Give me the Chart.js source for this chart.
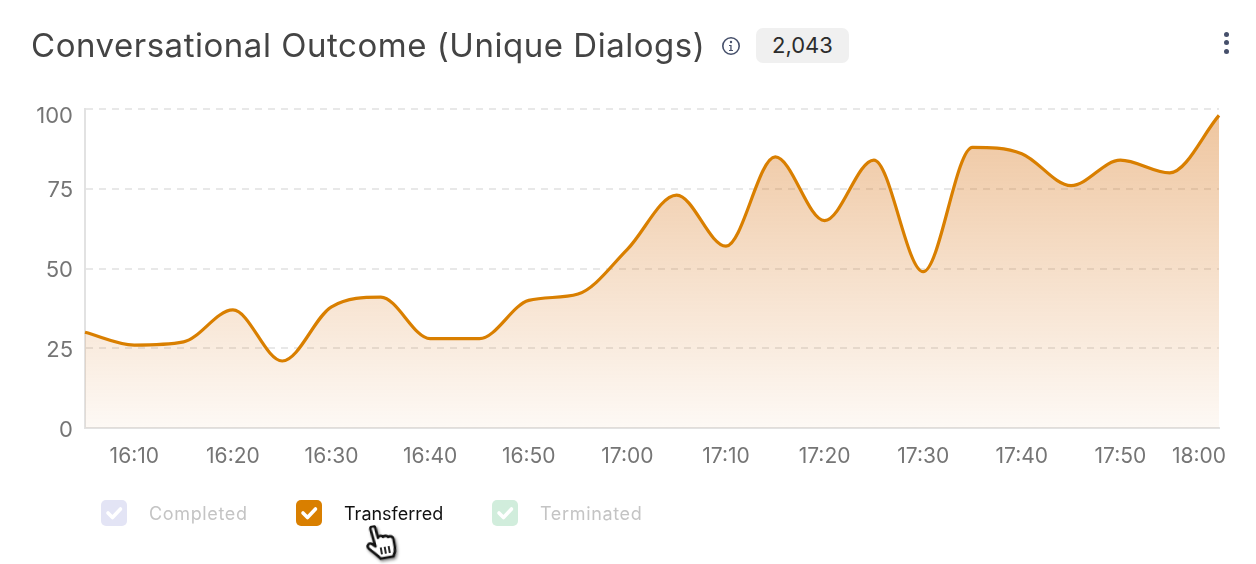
<!DOCTYPE html>
<html>
<head>
<meta charset="utf-8">
<script src="https://cdn.jsdelivr.net/npm/chart.js@4"></script>
<style>
  body { margin: 0; background: #fff; font-family: Inter, sans-serif; }
  #wrap { position: relative; width: 1256px; height: 564px; overflow: hidden; }
  #myChart { position: absolute; left: 0; top: 0; }
  #title { position: absolute; left: 31px; top: 25px; font-size: 33px; line-height: 40px; color: #444; white-space: nowrap; letter-spacing: 0.53px; }
  #info { position: absolute; left: 721px; top: 36px; }
  #badge { position: absolute; left: 756px; top: 28px; width: 93px; height: 35px; line-height: 35px; background: #f0f0f0; border-radius: 7px; text-align: center; font-size: 22px; color: #2c2c2c; }
  .dot { position: absolute; left: 1224px; width: 5px; height: 5px; border-radius: 50%; background: #46506b; }
  .item { position: absolute; top: 500px; height: 27px; }
  .box { position: absolute; left: 0; top: 0; width: 26px; height: 26px; border-radius: 5px; }
  .lbl { position: absolute; left: 48px; top: 0; line-height: 27px; font-size: 18px; white-space: nowrap; }
  #hand { position: absolute; left: 366px; top: 524px; transform: rotate(-10deg); filter: drop-shadow(1px 2px 1.5px rgba(0,0,0,0.45)); }
</style>
</head>
<body>
<div id="wrap">
  <canvas id="myChart" width="1256" height="564"></canvas>
  <div id="title">Conversational Outcome (Unique Dialogs)</div>
  <svg id="info" width="20" height="20" viewBox="0 0 20 20">
    <circle cx="10" cy="10" r="8.2" fill="none" stroke="#46506b" stroke-width="1.6"/>
    <circle cx="10" cy="6" r="1.2" fill="#46506b"/>
    <path d="M8 9h2.6v5H12v1H8v-1h1.3v-4H8z" fill="#46506b"/>
  </svg>
  <div id="badge"></div>
  <div class="dot" style="top:32px"></div>
  <div class="dot" style="top:40px"></div>
  <div class="dot" style="top:49px"></div>
  <div id="legend"></div>
  <svg id="hand" width="34" height="38" viewBox="0 0 34 38">
    <path d="M7 3c0-3 5-3 5 0l1 10c1-2 4-2 5 0 1-1 4-1 5 1 2-1 5 0 5 3v8c0 4-1 6-3 9H12c-2-3-5-6-10-12-2-3 1-6 4-4l3 3z" fill="#fff" stroke="#111" stroke-width="2.6" stroke-linejoin="round"/>
    <path d="M14 23v7M18 23v7M22 23v7" stroke="#111" stroke-width="1.8"/>
  </svg>
</div>
<script>
// 5 minute buckets
const timeLabels = ['16:05','16:10','16:15','16:20','16:25','16:30','16:35','16:40','16:45','16:50','16:55','17:00',
    '17:05','17:10','17:15','17:20','17:25','17:30','17:35','17:40','17:45','17:50','17:55','18:00'];
const transferred = [30,26,27,37,21,38,41,28,28,40,42,56,73,57,85,65,84,49,88,86,76,84,80,98];
const completed = [];
const terminated = [];
const seriesNames = ['Completed','Transferred','Terminated'];
const seriesColors = ['#e3e4f5','#d97f00','#d1eddc'];
const yTicks = [0,25,50,75,100];
const totalDialogs = '2,043';

document.getElementById('badge').textContent = totalDialogs;

// first and last tick labels sit inside the plot edges
const nudgeLabels = {
    id: 'nudgeLabels',
    beforeDraw(chart) {
        chart.scales.x.getLabelItems().forEach(item => {
            if (item.label === '18:00') item.options.translation[0] -= 20;
        });
        chart.scales.y.getLabelItems().forEach(item => {
            item.options.translation[1] += item.label === '100' ? 7 : 2;
        });
    }
};

let ctx = document.getElementById('myChart').getContext('2d');
let myChart = new Chart(ctx, {
    type: 'line',
    plugins: [nudgeLabels],
    data: {
        labels: timeLabels,
        datasets: [{
            label: seriesNames[0],
            data: completed,
            borderColor: seriesColors[0],
            hidden: true
        }, {
            label: seriesNames[1],
            data: transferred,
            borderColor: seriesColors[1],
            borderWidth: 3.2,
            pointRadius: 0,
            cubicInterpolationMode: 'monotone',
            fill: true,
            backgroundColor: function (c) {
                let area = c.chart.chartArea;
                if (!area) return 'rgba(211,102,0,0.3)';
                let g = c.chart.ctx.createLinearGradient(0, area.top, 0, area.bottom);
                g.addColorStop(0, 'rgba(211,102,0,0.38)');
                g.addColorStop(1, 'rgba(211,102,0,0.04)');
                return g;
            }
        }, {
            label: seriesNames[2],
            data: terminated,
            borderColor: seriesColors[2],
            hidden: true
        }]
    },
    options: {
        responsive: false,
        animation: false,
        layout: { padding: { top: 109, right: 37, bottom: 0, left: 0 } },
        plugins: {
            legend: { display: false },
            tooltip: { enabled: false }
        },
        scales: {
            x: {
                offset: false,
                afterFit: s => { s.height = 136; },
                border: { color: '#e2e2e2', width: 2 },
                grid: { display: false },
                ticks: {
                    autoSkip: false,
                    maxRotation: 0,
                    padding: 8,
                    color: '#757575',
                    font: { family: 'Inter', size: 21 },
                    callback: function (v, i) { return i % 2 ? timeLabels[i] : ''; }
                }
            },
            y: {
                min: 0,
                max: 100,
                afterFit: s => { s.width = 85; },
                afterBuildTicks: s => { s.ticks = yTicks.map(v => ({ value: v })); },
                border: { color: '#e2e2e2', width: 2, dash: [7, 6] },
                grid: {
                    color: '#e8e8e8',
                    lineWidth: 2,
                    tickLength: 0
                },
                ticks: {
                    padding: 12,
                    color: '#757575',
                    font: { family: 'Inter', size: 22 }
                }
            }
        }
    }
});

// legend is plain html next to the canvas
const legendX = [101, 296, 492];
const legendEl = document.getElementById('legend');
myChart.data.datasets.forEach((ds, i) => {
    let off = ds.hidden;
    let item = document.createElement('div');
    item.className = 'item';
    item.style.left = legendX[i] + 'px';
    item.innerHTML = '<div class="box" style="background:' + ds.borderColor + '">' +
        '<svg width="26" height="26" viewBox="0 0 26 26"><path d="M7 13l4.500 4.500L19.500 9" fill="none" stroke="#fff" stroke-width="3.600" stroke-linecap="round" stroke-linejoin="round"/></svg></div>' +
        '<div class="lbl" style="color:' + (off ? '#c4c4c4' : '#111') + ';letter-spacing:' + (off ? '0.65px' : '0') + '">' + ds.label + '</div>';
    legendEl.appendChild(item);
});
</script>
</body>
</html>
